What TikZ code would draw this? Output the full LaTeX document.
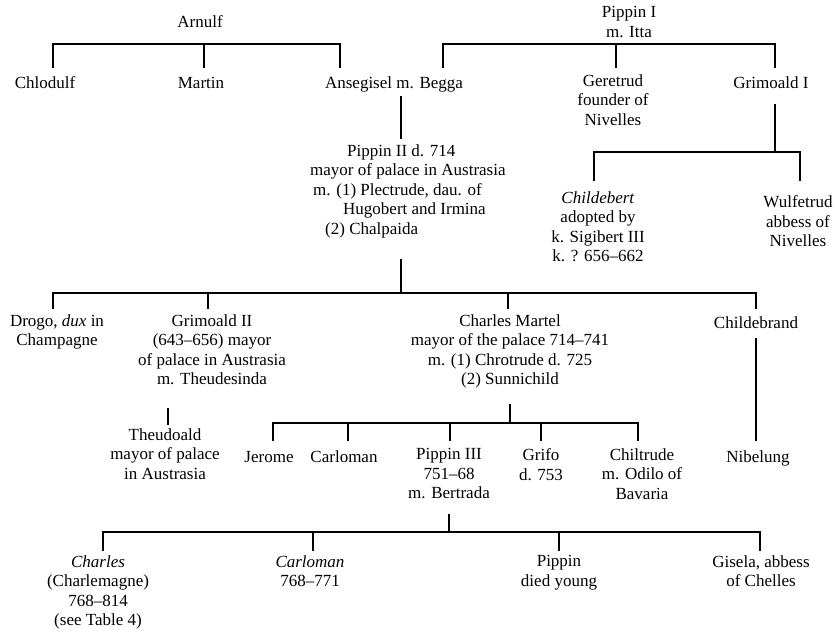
\documentclass[tikz,border=0pt]{standalone}
\usepackage{fontspec}
\setmainfont{Liberation Serif}
\newcommand{\fs}{\fontsize{17}{19.5}\selectfont}
\begin{document}
\begin{tikzpicture}[x=1pt,y=-1pt,
  ln/.style={line width=1.2pt, line cap=rect},
  person/.style={anchor=north, inner sep=0pt, align=center, font=\fs, execute at begin node=\strut},
  personl/.style={anchor=north west, inner sep=0pt, align=left, font=\fs, execute at begin node=\strut}]
\useasboundingbox (0,0) rectangle (836,637);
\def\off{8.65}
% generation 1
\node[person] (arnulf) at (200,22-\off) {Arnulf};
\node[person] (pippinI) at (629,15-\off) {Pippin I\\m. Itta};
% generation 2
\node[person] (chlodulf) at (45,83-\off) {Chlodulf};
\node[person] (martin) at (201,83-\off) {Martin};
\node[person] (ansegisel) at (394,83-\off) {Ansegisel m. Begga};
\node[person] (geretrud) at (613,83-\off) {Geretrud\\founder of\\Nivelles};
\node[person] (grimoaldI) at (771,83-\off) {Grimoald I};
% generation 3
\node[personl] (pippinII) at (310,153-\off) {\hspace*{37pt}Pippin II d. 714\\mayor of palace in Austrasia\\\hspace*{3pt}m. (1) Plectrude, dau. of\\\hspace*{33pt}Hugobert and Irmina\\\hspace*{15pt}(2) Chalpaida};
\node[person] (childebert) at (598,200-\off) {\textit{Childebert}\\adopted by\\k. Sigibert III\\k. ? 656--662};
\node[person] (wulfetrud) at (798,204-\off) {Wulfetrud\\abbess of\\Nivelles};
% generation 4
\node[person] (drogo) at (57,323-\off) {Drogo, \textit{dux} in\\Champagne};
\node[person] (grimoaldII) at (212,323-\off) {Grimoald II\\(643--656) mayor\\of palace in Austrasia\\m. Theudesinda};
\node[person] (charlesM) at (510,323-\off) {Charles Martel\\mayor of the palace 714--741\\m. (1) Chrotrude d. 725\\(2) Sunnichild};
\node[person] (childebrand) at (756,323-\off) {Childebrand};
% generation 5
\node[person] (theudoald) at (165,437-\off) {Theudoald\\mayor of palace\\in Austrasia};
\node[person] (jerome) at (269,457-\off) {Jerome};
\node[person] (carlomanA) at (344,457-\off) {Carloman};
\node[person] (pippinIII) at (449,457-\off) {Pippin III\\751--68\\m. Bertrada};
\node[person] (grifo) at (541,457-\off) {Grifo\\d. 753};
\node[person] (chiltrude) at (642,457-\off) {Chiltrude\\m. Odilo of\\Bavaria};
\node[person] (nibelung) at (758,457-\off) {Nibelung};
% generation 6
\node[person] (charles) at (98,564-\off) {\textit{Charles}\\(Charlemagne)\\768--814\\(see Table 4)};
\node[person] (carlomanB) at (310,564-\off) {\textit{Carloman}\\768--771};
\node[person] (pippin) at (559,564-\off) {Pippin\\died young};
\node[person] (gisela) at (761,564-\off) {Gisela, abbess\\of Chelles};
% connector points
\coordinate (chlodulf-t) at (53,67);
\coordinate (martin-t) at (204,67);
\coordinate (ansegiselA-t) at (340,67);
\coordinate (ansegiselB-t) at (443,67);
\coordinate (geretrud-t) at (616,67);
\coordinate (grimoaldI-t) at (775,67);
\coordinate (ansegisel-b) at (401,97);
\coordinate (pippinII-t) at (401,138);
\coordinate (grimoaldI-b) at (775,105);
\coordinate (childebert-t) at (594,180);
\coordinate (wulfetrud-t) at (800,180);
\coordinate (pippinII-b) at (401,260);
\coordinate (drogo-t) at (53,308);
\coordinate (grimoaldII-t) at (208,308);
\coordinate (charlesM-t) at (508,308);
\coordinate (childebrand-t) at (756,308);
\coordinate (grimoaldII-b) at (168,409);
\coordinate (theudoald-t) at (168,424);
\coordinate (charlesM-b) at (510,405);
\coordinate (jerome-t) at (273,440);
\coordinate (carlomanA-t) at (348,440);
\coordinate (pippinIII-t) at (450,440);
\coordinate (grifo-t) at (541,440);
\coordinate (chiltrude-t) at (638,440);
\coordinate (childebrand-b) at (756,339);
\coordinate (nibelung-t) at (756,440);
\coordinate (pippinIII-b) at (449,515);
\coordinate (charles-t) at (103,550);
\coordinate (carlomanB-t) at (313,550);
\coordinate (pippin-t) at (559,550);
\coordinate (gisela-t) at (760,550);
% Arnulf's children
\draw[ln] (chlodulf-t) |- (ansegiselA-t |- 0,44) -- (ansegiselA-t);
\draw[ln] (martin-t) -- (martin-t |- 0,44);
% Pippin I's children
\draw[ln] (ansegiselB-t) |- (grimoaldI-t |- 0,44) -- (grimoaldI-t);
\draw[ln] (geretrud-t) -- (geretrud-t |- 0,44);
% Ansegisel -> Pippin II
\draw[ln] (ansegisel-b) -- (pippinII-t);
% Grimoald I's children
\draw[ln] (grimoaldI-b) -- (grimoaldI-b |- 0,152);
\draw[ln] (childebert-t) |- (wulfetrud-t |- 0,152) -- (wulfetrud-t);
% Pippin II's children
\draw[ln] (pippinII-b) -- (pippinII-b |- 0,293);
\draw[ln] (drogo-t) |- (childebrand-t |- 0,293) -- (childebrand-t);
\draw[ln] (grimoaldII-t) -- (grimoaldII-t |- 0,293);
\draw[ln] (charlesM-t) -- (charlesM-t |- 0,293);
% Grimoald II -> Theudoald
\draw[ln] (grimoaldII-b) -- (theudoald-t);
% Charles Martel's children
\draw[ln] (charlesM-b) -- (charlesM-b |- 0,423);
\draw[ln] (jerome-t) |- (chiltrude-t |- 0,423) -- (chiltrude-t);
\draw[ln] (carlomanA-t) -- (carlomanA-t |- 0,423);
\draw[ln] (pippinIII-t) -- (pippinIII-t |- 0,423);
\draw[ln] (grifo-t) -- (grifo-t |- 0,423);
% Childebrand -> Nibelung
\draw[ln] (childebrand-b) -- (nibelung-t);
% Pippin III's children
\draw[ln] (pippinIII-b) -- (pippinIII-b |- 0,532);
\draw[ln] (charles-t) |- (gisela-t |- 0,532) -- (gisela-t);
\draw[ln] (carlomanB-t) -- (carlomanB-t |- 0,532);
\draw[ln] (pippin-t) -- (pippin-t |- 0,532);
\end{tikzpicture}
\end{document}
